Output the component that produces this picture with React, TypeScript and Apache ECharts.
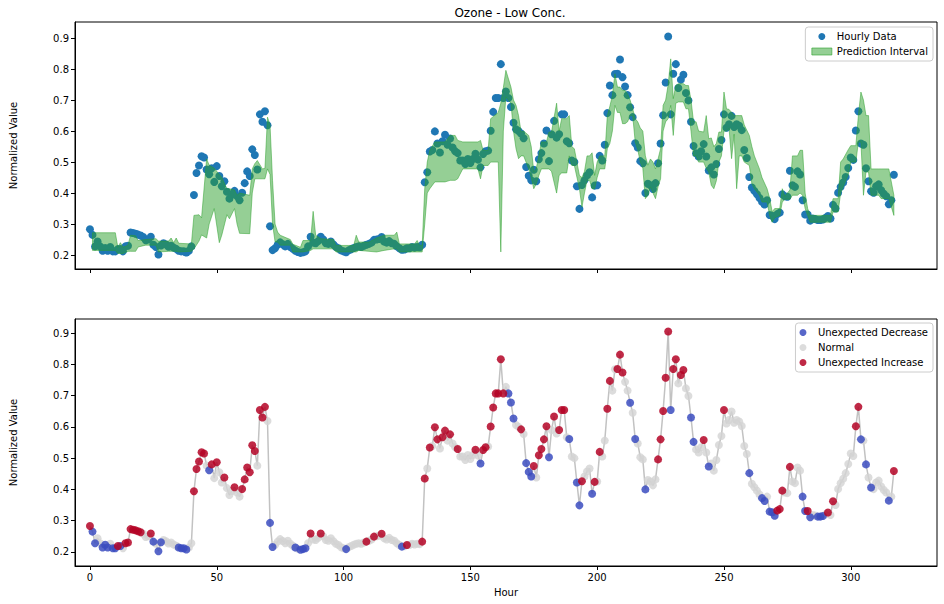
import React, { useEffect, useRef } from "react";
import * as echarts from "echarts";

// Hourly normalized ozone values, hour 0..317
const hourlyValues = [
  0.283, 0.265, 0.228, 0.244, 0.228, 0.214, 0.223, 0.214, 0.226, 0.212,
  0.212, 0.219, 0.219, 0.212, 0.228, 0.230, 0.273, 0.271, 0.269, 0.266,
  0.263, 0.258, 0.248, 0.250, 0.259, 0.233, 0.226, 0.202, 0.231, 0.238,
  0.234, 0.227, 0.230, 0.224, 0.220, 0.214, 0.212, 0.212, 0.208, 0.214,
  0.228, 0.394, 0.465, 0.489, 0.519, 0.515, 0.476, 0.461, 0.480, 0.436,
  0.487, 0.455, 0.422, 0.438, 0.404, 0.382, 0.395, 0.407, 0.390, 0.377,
  0.401, 0.432, 0.470, 0.455, 0.541, 0.523, 0.476, 0.654, 0.630, 0.664,
  0.619, 0.293, 0.216, 0.222, 0.233, 0.241, 0.235, 0.228, 0.236, 0.226,
  0.220, 0.214, 0.210, 0.207, 0.209, 0.212, 0.228, 0.259, 0.240, 0.238,
  0.245, 0.259, 0.250, 0.238, 0.236, 0.244, 0.234, 0.226, 0.222, 0.215,
  0.212, 0.209, 0.215, 0.219, 0.223, 0.226, 0.228, 0.226, 0.230, 0.233,
  0.236, 0.240, 0.249, 0.250, 0.252, 0.258, 0.244, 0.240, 0.245, 0.238,
  0.236, 0.228, 0.222, 0.217, 0.218, 0.222, 0.222, 0.226, 0.224, 0.226,
  0.225, 0.233, 0.435, 0.467, 0.534, 0.539, 0.599, 0.560, 0.531, 0.567,
  0.588, 0.556, 0.576, 0.547, 0.535, 0.529, 0.505, 0.505, 0.494, 0.510,
  0.497, 0.510, 0.527, 0.508, 0.483, 0.526, 0.535, 0.537, 0.601, 0.662,
  0.707, 0.707, 0.816, 0.707, 0.728, 0.707, 0.678, 0.627, 0.606, 0.600,
  0.592, 0.577, 0.484, 0.456, 0.441, 0.475, 0.438, 0.509, 0.529, 0.560,
  0.602, 0.503, 0.590, 0.633, 0.579, 0.590, 0.654, 0.654, 0.567, 0.561,
  0.505, 0.500, 0.422, 0.349, 0.426, 0.441, 0.457, 0.467, 0.386, 0.424,
  0.425, 0.520, 0.505, 0.556, 0.658, 0.747, 0.716, 0.784, 0.785, 0.831,
  0.774, 0.744, 0.716, 0.677, 0.645, 0.561, 0.547, 0.503, 0.496, 0.400,
  0.430, 0.425, 0.413, 0.432, 0.496, 0.560, 0.651, 0.757, 0.905, 0.654,
  0.785, 0.816, 0.739, 0.766, 0.782, 0.723, 0.699, 0.630, 0.552, 0.528,
  0.518, 0.535, 0.558, 0.518, 0.473, 0.483, 0.460, 0.494, 0.542, 0.571,
  0.654, 0.611, 0.622, 0.649, 0.613, 0.622, 0.617, 0.603, 0.539, 0.513,
  0.452, 0.418, 0.407, 0.396, 0.384, 0.372, 0.363, 0.377, 0.329, 0.327,
  0.316, 0.332, 0.337, 0.396, 0.390, 0.388, 0.472, 0.425, 0.420, 0.470,
  0.460, 0.377, 0.331, 0.331, 0.311, 0.318, 0.316, 0.313, 0.313, 0.315,
  0.320, 0.326, 0.318, 0.362, 0.350, 0.401, 0.420, 0.434, 0.452, 0.481,
  0.515, 0.507, 0.602, 0.664, 0.560, 0.556, 0.480, 0.438, 0.406, 0.401,
  0.422, 0.428, 0.409, 0.398, 0.390, 0.364, 0.377, 0.459,
];

// Anomaly class per hour: i = unexpected increase, d = unexpected decrease, n = normal
const anomalyStatus = [
  "iddnndddnd", "didniiiiii", "innnidnddn", "nnnnnddddn", "niiiiindin",
  "inninnninn", "iiiiiiniii", "nddnnnnnnn", "ndndddninn", "ninnnnnnnn",
  "ndnnnnnnni", "nninninnnn", "nnndninnnn", "niininiini", "ininninnnn",
  "nnindiinii", "iiiindddnn", "indddiniii", "idniniiind", "nnddinnndi",
  "ninniinnii", "inndndnnnd", "nnnniiiiid", "iiniinnddn", "nnindnnnnn",
  "innnnnnnnn", "dnnnnddndd", "diiinninnn", "nddidnnddd", "nininnnnnn",
  "nniidndndn", "nnnnndni",
].join("").split("");

// Prediction interval vertices
const bandHours = [
  1, 10, 11, 12, 13, 15, 16, 18, 19, 22, 26, 27, 31, 32, 33, 34, 35, 40, 41, 43,
  44, 46, 47, 49, 51, 52, 54, 55, 57, 58, 59, 63, 64, 65, 66, 68, 69, 70, 71, 72,
  73, 74, 75, 79, 80, 83, 84, 87, 88, 89, 91, 96, 97, 104, 105, 106, 110, 113, 116, 120,
  121, 122, 128, 129, 130, 131, 132, 133, 134, 136, 140, 142, 144, 145, 147, 153, 154, 155, 157, 158,
  161, 162, 163, 164, 166, 167, 168, 169, 170, 171, 173, 174, 175, 176, 177, 178, 180, 181, 182, 184,
  185, 186, 188, 189, 190, 191, 193, 194, 195, 196, 197, 198, 199, 200, 201, 203, 204, 205, 206, 207,
  208, 209, 210, 211, 212, 213, 214, 215, 216, 217, 218, 219, 220, 221, 222, 223, 224, 225, 226, 227,
  228, 229, 230, 231, 232, 234, 235, 236, 237, 238, 239, 240, 242, 243, 244, 245, 246, 247, 248, 249,
  250, 251, 252, 253, 254, 255, 256, 257, 258, 260, 261, 262, 264, 265, 267, 268, 269, 270, 272, 273,
  274, 276, 277, 279, 280, 281, 282, 283, 284, 292, 293, 295, 296, 297, 299, 300, 302, 303, 304, 305,
  306, 307, 308, 311, 312, 315, 317,
];
const bandLow = [
  0.215, 0.215, 0.205, 0.205, 0.205, 0.212, 0.212, 0.212, 0.226, 0.232, 0.232, 0.210, 0.212, 0.212, 0.212, 0.212, 0.210, 0.212, 0.220, 0.245,
  0.265, 0.255, 0.300, 0.350, 0.240, 0.265, 0.330, 0.317, 0.350, 0.300, 0.270, 0.269, 0.400, 0.446, 0.446, 0.446, 0.446, 0.478, 0.460, 0.300,
  0.242, 0.242, 0.232, 0.232, 0.210, 0.210, 0.210, 0.215, 0.220, 0.220, 0.220, 0.220, 0.210, 0.210, 0.210, 0.215, 0.212, 0.210, 0.215, 0.220,
  0.220, 0.210, 0.210, 0.210, 0.210, 0.210, 0.300, 0.400, 0.414, 0.436, 0.436, 0.441, 0.441, 0.446, 0.478, 0.478, 0.446, 0.489, 0.489, 0.500,
  0.500, 0.210, 0.600, 0.710, 0.690, 0.600, 0.543, 0.511, 0.520, 0.520, 0.478, 0.450, 0.414, 0.430, 0.457, 0.478, 0.478, 0.478, 0.470, 0.400,
  0.457, 0.465, 0.465, 0.520, 0.489, 0.489, 0.414, 0.355, 0.400, 0.441, 0.441, 0.414, 0.414, 0.450, 0.478, 0.478, 0.543, 0.560, 0.600, 0.683,
  0.660, 0.660, 0.624, 0.624, 0.630, 0.650, 0.650, 0.565, 0.540, 0.500, 0.480, 0.382, 0.393, 0.420, 0.400, 0.382, 0.420, 0.446, 0.600, 0.630,
  0.640, 0.683, 0.586, 0.690, 0.694, 0.694, 0.672, 0.672, 0.600, 0.520, 0.520, 0.500, 0.500, 0.480, 0.468, 0.425, 0.414, 0.440, 0.500, 0.520,
  0.600, 0.600, 0.608, 0.511, 0.590, 0.414, 0.520, 0.520, 0.500, 0.489, 0.430, 0.414, 0.393, 0.371, 0.371, 0.328, 0.306, 0.320, 0.328, 0.371,
  0.380, 0.380, 0.393, 0.393, 0.400, 0.393, 0.350, 0.328, 0.306, 0.306, 0.339, 0.339, 0.400, 0.420, 0.460, 0.500, 0.500, 0.565, 0.565, 0.393,
  0.468, 0.468, 0.393, 0.393, 0.382, 0.382, 0.328,
];
const bandHigh = [
  0.272, 0.272, 0.225, 0.240, 0.225, 0.232, 0.264, 0.262, 0.247, 0.250, 0.253, 0.245, 0.245, 0.255, 0.240, 0.255, 0.238, 0.236, 0.328, 0.330,
  0.320, 0.510, 0.490, 0.480, 0.460, 0.450, 0.414, 0.414, 0.410, 0.393, 0.400, 0.393, 0.478, 0.495, 0.505, 0.478, 0.480, 0.645, 0.620, 0.440,
  0.300, 0.274, 0.264, 0.250, 0.235, 0.225, 0.247, 0.247, 0.341, 0.264, 0.253, 0.250, 0.231, 0.231, 0.264, 0.242, 0.242, 0.255, 0.264, 0.264,
  0.274, 0.236, 0.236, 0.247, 0.231, 0.231, 0.414, 0.500, 0.538, 0.565, 0.565, 0.586, 0.586, 0.570, 0.565, 0.565, 0.570, 0.538, 0.538, 0.640,
  0.660, 0.690, 0.740, 0.796, 0.742, 0.700, 0.683, 0.650, 0.597, 0.600, 0.586, 0.550, 0.468, 0.480, 0.520, 0.565, 0.565, 0.597, 0.597, 0.690,
  0.600, 0.640, 0.640, 0.650, 0.550, 0.543, 0.457, 0.450, 0.470, 0.520, 0.520, 0.530, 0.457, 0.500, 0.520, 0.520, 0.650, 0.680, 0.715, 0.785,
  0.742, 0.742, 0.731, 0.731, 0.720, 0.700, 0.672, 0.640, 0.630, 0.610, 0.600, 0.520, 0.490, 0.510, 0.500, 0.478, 0.510, 0.543, 0.683, 0.700,
  0.750, 0.833, 0.705, 0.747, 0.753, 0.753, 0.747, 0.747, 0.700, 0.630, 0.630, 0.600, 0.597, 0.650, 0.575, 0.578, 0.550, 0.560, 0.597, 0.597,
  0.726, 0.672, 0.670, 0.660, 0.650, 0.650, 0.650, 0.650, 0.620, 0.586, 0.550, 0.520, 0.478, 0.450, 0.414, 0.384, 0.340, 0.350, 0.350, 0.414,
  0.390, 0.410, 0.520, 0.520, 0.538, 0.538, 0.400, 0.350, 0.328, 0.328, 0.382, 0.382, 0.500, 0.510, 0.540, 0.553, 0.553, 0.650, 0.726, 0.700,
  0.650, 0.650, 0.478, 0.478, 0.478, 0.478, 0.393,
];

const xTicks = [0, 50, 100, 150, 200, 250, 300];
const yTicks = [0.2, 0.3, 0.4, 0.5, 0.6, 0.7, 0.8, 0.9];

const FONT = "DejaVu Sans";

export default function App() {
  const ref = useRef<HTMLDivElement>(null);

  useEffect(() => {
    if (!ref.current) return;
    const chart = echarts.init(ref.current, undefined, { renderer: "svg" });

    const points = hourlyValues.map((v, i) => [i, v]);
    const byStatus = (s: string) => points.filter((_, i) => anomalyStatus[i] === s);
    const bandData = bandHours.map((h, i) => [h, bandLow[i], bandHigh[i]]);

    const axisLine = { show: true, onZero: false, lineStyle: { color: "#000", width: 1 } };
    const labelStyle = { color: "#000", fontSize: 10, fontFamily: FONT };

    const xAxisBase = (grid: number, showLabels: boolean) => ({
      type: "value",
      gridIndex: grid,
      min: -5.9,
      max: 334,
      axisLine,
      axisTick: { show: true, length: 4, customValues: xTicks, lineStyle: { color: "#000" } },
      axisLabel: showLabels
        ? { show: true, customValues: xTicks, margin: 6, ...labelStyle }
        : { show: false },
      splitLine: { show: false },
      ...(showLabels
        ? {
            name: "Hour",
            nameLocation: "middle",
            nameGap: 21,
            nameTextStyle: { ...labelStyle },
          }
        : {}),
    });

    const yAxisBase = (grid: number, max: number) => ({
      type: "value",
      gridIndex: grid,
      min: 0.155,
      max,
      axisLine,
      axisTick: { show: true, length: 4, customValues: yTicks, lineStyle: { color: "#000" } },
      axisLabel: {
        show: true,
        customValues: yTicks,
        margin: 6,
        formatter: (v: number) => v.toFixed(1),
        ...labelStyle,
      },
      splitLine: { show: false },
      name: "Normalized Value",
      nameLocation: "middle",
      nameGap: 57,
      nameTextStyle: { ...labelStyle },
    });

    const legendCommon = {
      orient: "vertical",
      right: 11,
      backgroundColor: "rgba(255,255,255,0.8)",
      borderColor: "#cccccc",
      borderWidth: 1,
      borderRadius: 3,
      itemWidth: 20,
      itemHeight: 7,
      itemGap: 4,
      textStyle: { ...labelStyle, lineHeight: 11 },
      selectedMode: false,
    };

    chart.setOption({
      animation: false,
      title: {
        text: "Ozone - Low Conc.",
        left: 505,
        top: 2,
        textAlign: "center",
        textStyle: { fontSize: 12, fontWeight: "normal", color: "#000", fontFamily: FONT },
      },
      grid: [
        { left: 73, top: 22, width: 864, height: 247, show: true, borderColor: "#000", borderWidth: 1 },
        { left: 73, top: 319, width: 864, height: 247, show: true, borderColor: "#000", borderWidth: 1 },
      ],
      xAxis: [xAxisBase(0, false), xAxisBase(1, true)],
      yAxis: [yAxisBase(0, 0.952), yAxisBase(1, 0.945)],
      legend: [
        {
          ...legendCommon,
          top: 27,
          padding: [4, 5, 4, 6],
          data: [
            { name: "Hourly Data", icon: "circle" },
            {
              name: "Prediction Interval",
              icon: "rect",
              itemStyle: { color: "rgba(44,160,44,0.5)", borderColor: "rgba(44,160,44,0.6)", borderWidth: 1 },
            },
          ],
        },
        {
          ...legendCommon,
          top: 323,
          padding: [4, 5, 4, 4],
          data: [
            { name: "Unexpected Decrease", icon: "circle" },
            { name: "Normal", icon: "circle" },
            { name: "Unexpected Increase", icon: "circle" },
          ],
        },
      ],
      series: [
        {
          name: "Hourly Data",
          type: "scatter",
          xAxisIndex: 0,
          yAxisIndex: 0,
          data: points,
          symbolSize: 8,
          itemStyle: { color: "#1f77b4", opacity: 1 },
          z: 2,
        },
        {
          name: "Prediction Interval",
          type: "custom",
          xAxisIndex: 0,
          yAxisIndex: 0,
          data: bandData,
          encode: { x: 0, y: [1, 2] },
          itemStyle: { color: "rgba(44,160,44,0.5)" },
          z: 3,
          silent: true,
          renderItem: (params: any, api: any) => {
            if (params.dataIndex !== 0) return null;
            const upper = bandData.map((d) => api.coord([d[0], d[2]]));
            const lower = bandData.map((d) => api.coord([d[0], d[1]])).reverse();
            return {
              type: "polygon",
              shape: { points: upper.concat(lower) },
              style: {
                fill: "rgba(44,160,44,0.5)",
                stroke: "rgba(44,160,44,0.5)",
                lineWidth: 1,
              },
            };
          },
        },
        {
          name: "trend",
          type: "line",
          xAxisIndex: 1,
          yAxisIndex: 1,
          data: points,
          symbol: "none",
          lineStyle: { color: "#c2c2c2", width: 1.5 },
          z: 1,
          silent: true,
        },
        {
          name: "Normal",
          type: "scatter",
          xAxisIndex: 1,
          yAxisIndex: 1,
          data: byStatus("n"),
          symbolSize: 8,
          itemStyle: { color: "#d3d3d3", opacity: 0.8 },
          z: 2,
        },
        {
          name: "Unexpected Decrease",
          type: "scatter",
          xAxisIndex: 1,
          yAxisIndex: 1,
          data: byStatus("d"),
          symbolSize: 8,
          itemStyle: { color: "#3b4cc0", opacity: 0.85 },
          z: 3,
        },
        {
          name: "Unexpected Increase",
          type: "scatter",
          xAxisIndex: 1,
          yAxisIndex: 1,
          data: byStatus("i"),
          symbolSize: 8,
          itemStyle: { color: "#b40426", opacity: 0.85 },
          z: 3,
        },
      ],
    });

    return () => chart.dispose();
  }, []);

  return (
    <div
      ref={ref}
      style={{ position: "absolute", left: 0, top: 0, width: 944, height: 604, background: "#fff" }}
    />
  );
}
